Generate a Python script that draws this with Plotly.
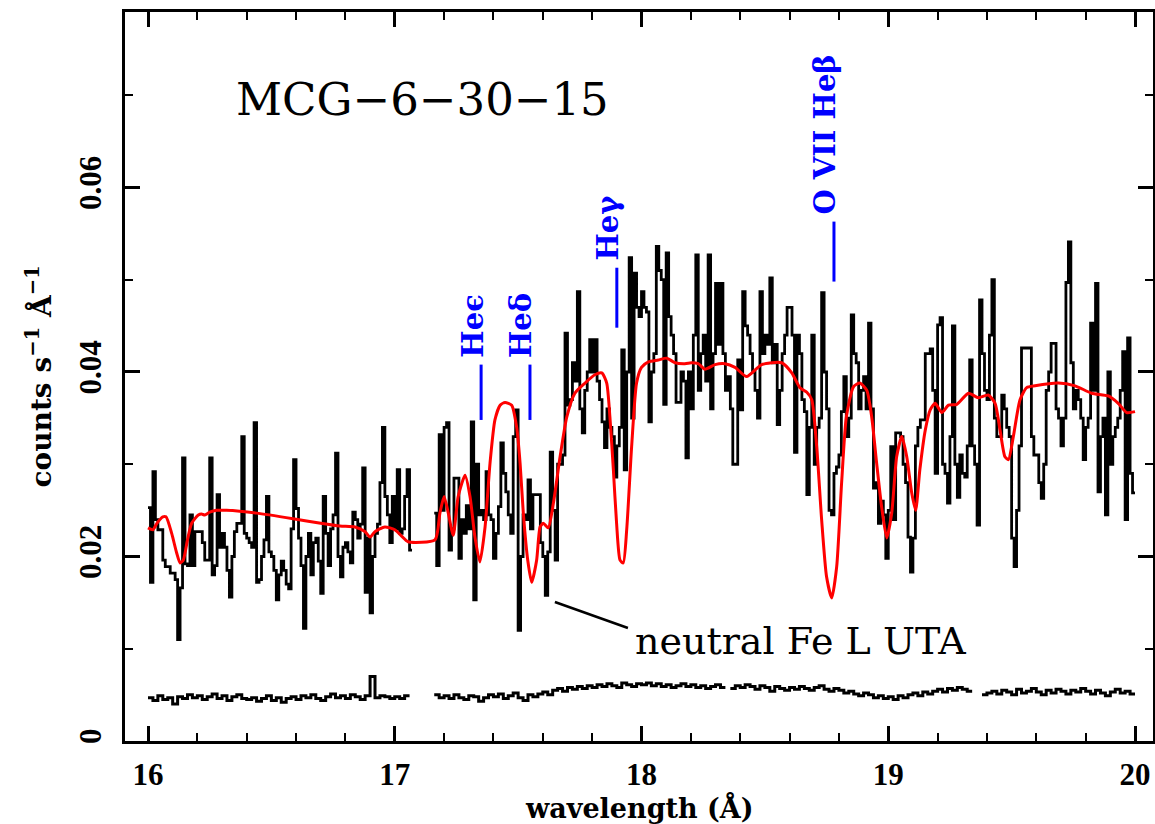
import plotly.graph_objects as go

# ---------------- data ----------------
# source spectrum, 0.01 A bins starting at 16.00 A (None = detector gap)
bin_start = 16.00
bin_width = 0.01
src_counts = [
    .0253, .0172, .0292, .0240, .0229, .0229, .0196, .0189, .0189, .0182,
    .0182, .0175, .0110, .0166, .0307, .0192, .0190, .0245, .0190, .0227,
    .0227, .0227, .0215, .0196, .0196, .0307, .0180, .0190, .0267, .0210,
    .0225, .0210, .0185, .0156, .0200, .0227, .0236, .0236, .0330, .0225,
    .0220, .0215, .0210, .0345, .0172, .0175, .0200, .0218, .0265, .0205,
    .0200, .0185, .0153, .0180, .0195, .0185, .0170, .0165, .0230, .0305,
    .0252, .0220, .0190, .0122, .0200, .0225, .0180, .0215, .0220, .0195,
    .0160, .0265, .0225, .0190, .0230, .0245, .0312, .0200, .0178, .0210,
    .0215, .0205, .0193, .0248, .0240, .0220, .0235, .0296, .0161, .0220,
    .0139, .0200, .0225, .0235, .0280, .0340, .0265, .0245, .0215, .0265,
    .0230, .0294, .0225, .0230, .0265, .0294, .0207, None, None, None,
    None, None, None, None, None, None, .0247, .0190, .0332, .0250,
    .0340, .0345, .0207, .0230, .0285, .0285, .0198, .0240, .0225, .0255,
    .0230, .0346, .0153, .0300, .0245, .0250, .0240, .0292, .0245, .0240,
    .0198, .0225, .0254, .0323, .0290, .0270, .0245, .0225, .0330, .0359,
    .0120, .0200, .0245, .0240, .0283, .0230, .0267, .0267, .0267, .0215,
    .0200, .0158, .0205, .0313, .0250, .0196, .0300, .0300, .0310, .0442,
    .0364, .0370, .0410, .0390, .0487, .0360, .0334, .0380, .0400, .0435,
    .0400, .0435, .0390, .0370, .0346, .0318, .0360, .0340, .0330, .0286,
    .0320, .0340, .0424, .0294, .0400, .0524, .0350, .0507, .0470, .0460,
    .0487, .0470, .0465, .0346, .0400, .0420, .0536, .0510, .0500, .0365,
    .0529, .0460, .0440, .0420, .0367, .0367, .0400, .0390, .0307, .0400,
    .0360, .0440, .0527, .0380, .0420, .0440, .0390, .0527, .0360, .0420,
    .0496, .0430, .0496, .0420, .0380, .0395, .0360, .0300, .0300, .0413,
    .0359, .0487, .0450, .0440, .0420, .0400, .0380, .0350, .0487, .0420,
    .0440, .0430, .0502, .0410, .0430, .0343, .0380, .0420, .0440, .0470,
    .0470, .0440, .0313, .0440, .0420, .0370, .0357, .0267, .0340, .0440,
    .0300, .0340, .0350, .0486, .0400, .0360, .0250, .0245, .0290, .0297,
    .0310, .0357, .0395, .0330, .0350, .0462, .0420, .0410, .0360, .0380,
    .0395, .0360, .0453, .0360, .0274, .0280, .0236, .0260, .0245, .0198,
    .0250, .0319, .0240, .0334, .0334, .0330, .0300, .0280, .0221, .0183,
    .0220, .0320, .0340, .0348, .0348, .0420, .0420, .0425, .0380, .0290,
    .0451, .0459, .0300, .0290, .0258, .0330, .0450, .0300, .0264, .0310,
    .0290, .0286, .0320, .0413, .0320, .0300, .0234, .0478, .0420, .0380,
    .0370, .0440, .0500, .0350, .0330, .0330, .0375, .0360, .0340, .0330,
    .0220, .0189, .0250, .0320, .0426, .0426, .0426, .0426, .0330, .0310,
    .0310, .0280, .0263, .0300, .0380, .0400, .0431, .0431, .0360, .0350,
    .0320, .0350, .0497, .0541, .0410, .0360, .0380, .0370, .0350, .0305,
    .0340, .0350, .0453, .0380, .0496, .0270, .0330, .0350, .0245, .0400,
    .0300, .0330, .0340, .0350, .0380, .0422, .0240, .0437, .0290, .0269,
]

# background spectrum, 0.02 A bins starting at 16.00 A
bkg_start = 16.00
bkg_width = 0.02
bkg_counts = [
    .0047, .0044, .0049, .0045, .0047, .0040, .0048, .0046, .0050, .0047,
    .0049, .0045, .0048, .0051, .0046, .0049, .0044, .0048, .0050, .0046,
    .0045, .0047, .0043, .0046, .0049, .0044, .0047, .0042, .0046, .0048,
    .0045, .0049, .0047, .0050, .0046, .0044, .0048, .0051, .0047, .0049,
    .0046, .0050, .0048, .0045, .0049, .0070, .0047, .0049, .0048, .0046,
    .0048, .0046, .0049, None, None, None, None, None, .0050, .0047,
    .0049, .0046, .0050, .0047, .0045, .0049, .0048, .0043, .0047, .0050,
    .0048, .0051, .0046, .0049, .0052, .0047, .0044, .0050, .0048, .0051,
    .0053, .0050, .0055, .0057, .0054, .0058, .0056, .0059, .0057, .0060,
    .0058, .0061, .0059, .0062, .0060, .0058, .0063, .0061, .0059, .0062,
    .0061, .0063, .0060, .0062, .0059, .0061, .0058, .0060, .0062, .0059,
    .0061, .0058, .0060, .0057, .0059, .0061, .0058, None, .0057, .0060,
    .0058, .0061, .0059, .0056, .0060, .0058, .0054, .0059, .0057, .0055,
    .0058, .0056, .0059, .0057, .0055, .0058, .0060, .0056, .0054, .0057,
    .0055, .0052, .0054, .0051, .0049, .0052, .0050, .0047, .0049, .0046,
    .0048, .0045, .0049, .0047, .0050, .0052, .0049, .0053, .0051, .0054,
    .0056, .0053, .0057, .0055, .0058, .0056, .0054, None, None, .0050,
    .0052, .0054, .0051, .0055, .0053, .0050, .0056, .0052, .0054, .0057,
    .0053, .0050, .0055, .0052, .0056, .0054, .0051, .0055, .0053, .0057,
    .0054, .0051, .0055, .0052, .0049, .0053, .0056, .0052, .0054, .0051,
]

# absorption model curve
model_wave = [16.00, 16.02, 16.036, 16.06, 16.073, 16.096, 16.116, 16.13, 16.143, 16.16,
              16.177, 16.204, 16.217, 16.23, 16.25, 16.278, 16.319, 16.44, 16.588, 16.70,
              16.778, 16.839, 16.879, 16.90, 16.92, 16.96, 17.00, 17.028, 17.054, 17.163,
              17.183, 17.20, 17.217, 17.237, 17.257, 17.285, 17.305, 17.325, 17.345, 17.366,
              17.386, 17.406, 17.427, 17.447, 17.474, 17.494, 17.508, 17.521, 17.539, 17.555,
              17.575, 17.589, 17.602, 17.622, 17.643, 17.67, 17.697, 17.73, 17.771, 17.811,
              17.839, 17.859, 17.872, 17.886, 17.899, 17.913, 17.926, 17.94, 17.96, 17.98,
              18.00, 18.028, 18.068, 18.102, 18.136, 18.176, 18.203, 18.23, 18.257, 18.298,
              18.338, 18.379, 18.426, 18.487, 18.568, 18.609, 18.642, 18.67, 18.69, 18.71,
              18.73, 18.75, 18.771, 18.791, 18.811, 18.83, 18.859, 18.885, 18.913, 18.933,
              18.953, 18.973, 18.994, 19.014, 19.034, 19.055, 19.075, 19.095, 19.111, 19.128,
              19.15, 19.17, 19.19, 19.217, 19.244, 19.278, 19.325, 19.365, 19.405, 19.433,
              19.453, 19.473, 19.487, 19.507, 19.534, 19.561, 19.595, 19.689, 19.757, 19.824,
              19.892, 19.932, 19.966, 20.00]
model_flux = [.0231, .0229, .0236, .0243, .0243, .0225, .0204, .0193, .0196, .0218,
              .0236, .0245, .0246, .0245, .0248, .0250, .0250, .0247, .0241, .0236,
              .0233, .0232, .0227, .0221, .0227, .0232, .0229, .0222, .0216, .0218,
              .0247, .0265, .0247, .0223, .0265, .0288, .0265, .0221, .0194, .0232,
              .0301, .0348, .0364, .0367, .0364, .0340, .0301, .0247, .0196, .0172,
              .0196, .0232, .0236, .0231, .0258, .0308, .0351, .0377, .0388, .0397,
              .0399, .0388, .0351, .0294, .0236, .0196, .0193, .0229, .0319, .0388,
              .0405, .0411, .0413, .0415, .0410, .0409, .0410, .0409, .0403, .0408,
              .0409, .0405, .0395, .0408, .0410, .0399, .0383, .0378, .0370, .0319,
              .0240, .0178, .0155, .0189, .0280, .0351, .0384, .0388, .0380, .0351,
              .0301, .0254, .0220, .0247, .0308, .0330, .0308, .0269, .0250, .0294,
              .0337, .0359, .0366, .0356, .0364, .0365, .0377, .0372, .0375, .0366,
              .0337, .0308, .0305, .0330, .0370, .0383, .0385, .0388, .0385, .0377,
              .0374, .0366, .0356, .0357]

# absorption line identifications
line_labels = ["Heϵ", "Heδ", "Heγ", "O VII Heβ"]
line_wave = [17.35, 17.548, 17.90, 18.78]
line_bottom = [0.0348, 0.0348, 0.0448, 0.0498]
line_top = [0.0408, 0.0408, 0.0513, 0.0563]

x_ticks = [16, 17, 18, 19, 20]
y_ticks = [0, 0.02, 0.04, 0.06]
y_ticktext = ["0", "0.02", "0.04", "0.06"]


def steps(start, width, vals):
    xs, ys = [], []
    for i, v in enumerate(vals):
        if v is None:
            xs.append(None)
            ys.append(None)
            continue
        x0 = start + i * width
        xs += [x0, x0 + width]
        ys += [v, v]
    return xs, ys


fig = go.Figure()

bx, by = steps(bkg_start, bkg_width, bkg_counts)
fig.add_trace(go.Scatter(x=bx, y=by, mode="lines", line=dict(color="black", width=3),
                         connectgaps=False, showlegend=False, hoverinfo="skip"))

sx, sy = steps(bin_start, bin_width, src_counts)
fig.add_trace(go.Scatter(x=sx, y=sy, mode="lines", line=dict(color="black", width=2.8),
                         connectgaps=False, showlegend=False))

fig.add_trace(go.Scatter(x=model_wave, y=model_flux, mode="lines",
                         line=dict(color="#ff0000", width=3, shape="spline", smoothing=0.6),
                         showlegend=False))

# blue identification ticks and labels
for lab, w, y0, y1 in zip(line_labels, line_wave, line_bottom, line_top):
    fig.add_shape(type="line", x0=w, x1=w, y0=y0, y1=y1, xref="x", yref="y",
                  line=dict(color="#0000ff", width=3))
    fig.add_annotation(x=w, y=y1, xref="x", yref="y", text="<b>" + lab + "</b>",
                       textangle=-90, showarrow=False, xanchor="center", yanchor="bottom",
                       xshift=-9, yshift=5,
                       font=dict(family="DejaVu Serif", size=29, color="#0000ff"))

# object name
fig.add_annotation(x=16.347, y=0.0695, xref="x", yref="y", text="MCG−6−30−15",
                   showarrow=False, xanchor="left", yanchor="middle",
                   font=dict(family="DejaVu Serif", size=45, color="black"))

# UTA label with pointer
fig.add_shape(type="line", x0=17.649, y0=0.01507, x1=17.945, y1=0.01225, xref="x", yref="y",
              line=dict(color="black", width=2.5))
fig.add_annotation(x=17.966, y=0.0108, xref="x", yref="y", text="neutral Fe L UTA",
                   showarrow=False, xanchor="left", yanchor="middle",
                   font=dict(family="DejaVu Serif", size=38, color="black"))

# axis titles
fig.add_annotation(x=0.5, y=0, xref="paper", yref="paper", text="<b>wavelength (Å)</b>",
                   showarrow=False, xanchor="center", yanchor="top", yshift=-48,
                   font=dict(family="DejaVu Serif", size=27, color="black"))
fig.add_annotation(x=0, y=0.5, xref="paper", yref="paper",
                   text="<b>counts s<sup>−1</sup> Å<sup>−1</sup></b>",
                   showarrow=False, textangle=-90, xanchor="center", yanchor="middle",
                   xshift=-85,
                   font=dict(family="DejaVu Serif", size=28, color="black"))

axis_common = dict(showline=True, linewidth=3, linecolor="black", mirror="allticks",
                   ticks="inside", ticklen=15, tickwidth=2.5, tickcolor="black",
                   showgrid=False, zeroline=False, automargin=False,
                   tickfont=dict(family="Liberation Serif", size=31, color="black",
                                 weight="bold"))

fig.update_xaxes(range=[15.9068, 20.0729], tickvals=x_ticks,
                 minor=dict(dtick=0.2, tick0=16, ticks="inside", ticklen=8, tickwidth=2,
                            tickcolor="black", showgrid=False),
                 ticklabelstandoff=4, **axis_common)
fig.update_yaxes(range=[0, 0.07902], tickvals=y_ticks, ticktext=y_ticktext, tickangle=-90,
                 minor=dict(dtick=0.01, tick0=0, ticks="inside", ticklen=8, tickwidth=2,
                            tickcolor="black", showgrid=False),
                 ticklabelstandoff=9, **axis_common)

fig.update_layout(width=1155, height=824, margin=dict(l=125, r=2, t=12, b=83),
                  paper_bgcolor="white", plot_bgcolor="white")

# remove the default page margin so the figure fills the window exactly
fig.write_html("out.html",
               config={"displayModeBar": False},
               post_script="document.body.style.margin='0px';"
                           "document.body.style.overflow='hidden';")
